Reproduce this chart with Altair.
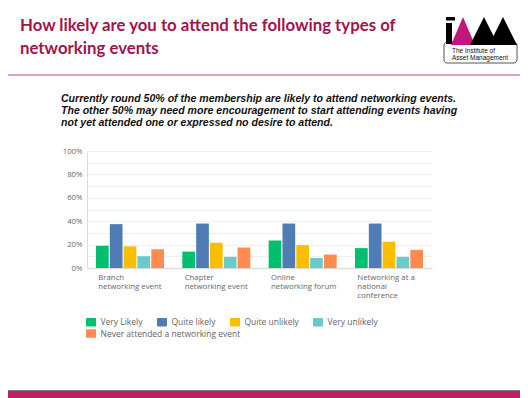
import altair as alt
import pandas as pd

# ---------------- data ----------------
categories = ["Branch networking event", "Chapter networking event",
              "Online networking forum", "Networking at a national conference"]
category_lines = [["Branch", "networking event"], ["Chapter", "networking event"],
                  ["Online", "networking forum"], ["Networking at a", "national", "conference"]]
series = ["Very Likely", "Quite likely", "Quite unlikely", "Very unlikely",
          "Never attended a networking event"]
colors = ["#00bf6f", "#507cb6", "#f9be00", "#6bc8cd", "#ff8b4f"]

very_likely = [19, 14, 23.5, 17]
quite_likely = [37.5, 38, 38, 38]
quite_unlikely = [18.5, 21.5, 19.5, 22.5]
very_unlikely = [10, 9.5, 8.5, 9.5]
never_attended = [16, 17.5, 11.5, 15.5]
y_ticks = [0, 10, 20, 30, 40, 50, 60, 70, 80, 90, 100]

title_text = "How likely are you to attend the following types of\nnetworking events"
subtitle_text = ("Currently round 50% of the membership are likely to attend networking events.\n"
                 "The other 50% may need more encouragement to start attending events having\n"
                 "not yet attended one or expressed no desire to attend.")
logo_text = "The Institute of\nAsset Management"

rows = []
for s, vals in zip(series, [very_likely, quite_likely, quite_unlikely, very_unlikely, never_attended]):
    for c, v in zip(categories, vals):
        rows.append({"category": c, "series": s, "value": v})
df = pd.DataFrame(rows)

# ---------------- layout ----------------
PL, PT, W, H = 79, 143, 345, 117
PR = 512 - PL - W
PB = 390 - PT - H


def X(px):
    return px - 8 - PL


def Y(py):
    return py - 8 - PT


label_expr = ""
for c, lines in zip(categories, category_lines):
    arr = "[" + ",".join("'" + l + "'" for l in lines) + "]"
    label_expr += f"datum.label == '{c}' ? {arr} : "
label_expr += "datum.label"

swatch = "M-0.8,-0.85H0.8Q1,-0.85 1,-0.65V0.65Q1,0.85 0.8,0.85H-0.8Q-1,0.85 -1,0.65V-0.65Q-1,-0.85 -0.8,-0.85Z"

leg_common = dict(title=None, orient="none", direction="horizontal",
                  symbolType=swatch, symbolSize=100, labelOffset=4.5,
                  columnPadding=14, padding=0, labelFontSize=8.5,
                  labelColor="#666666", labelFont="Open Sans",
                  symbolStrokeWidth=0, symbolOpacity=1)

x_enc = alt.X("category:N", sort=categories,
              scale=alt.Scale(paddingInner=0.212, paddingOuter=0.104),
              axis=alt.Axis(title=None, labelExpr=label_expr, labelAlign="left",
                            labelBaseline="top", labelOffset=-31.7, labelPadding=5,
                            labelLineHeight=9, labelAngle=0, ticks=False,
                            domainColor="#dddddd", domainWidth=1.5, labelColor="#666666",
                            labelFont="Open Sans", labelFontSize=7.8))
xoff_enc = alt.XOffset("series:N", scale=alt.Scale(domain=series, paddingInner=0.08, paddingOuter=0))
y_enc = alt.Y("value:Q", scale=alt.Scale(domain=[0, 100], nice=False),
              axis=alt.Axis(title=None, values=y_ticks,
                            labelExpr="datum.value % 20 == 0 ? datum.value + '%' : ''",
                            ticks=False, gridColor="#efefef", domainColor="#dddddd",
                            labelPadding=5, labelColor="#666666", labelFont="Open Sans",
                            labelFontSize=7.8))

bars_main = alt.Chart(df).transform_filter(
    alt.FieldOneOfPredicate(field="series", oneOf=series[:4])
).mark_bar().encode(
    x=x_enc, xOffset=xoff_enc, y=y_enc,
    color=alt.Color("series:N", scale=alt.Scale(domain=series[:4], range=colors[:4]),
                    legend=alt.Legend(legendX=X(86), legendY=Y(317), **leg_common)),
)

bars_never = alt.Chart(df).transform_filter(
    alt.FieldOneOfPredicate(field="series", oneOf=series[4:])
).mark_bar().encode(
    x=x_enc, xOffset=xoff_enc, y=y_enc,
    fill=alt.Fill("series:N", scale=alt.Scale(domain=series[4:], range=colors[4:]),
                  legend=alt.Legend(legendX=X(86), legendY=Y(328.5), **leg_common)),
)

one = pd.DataFrame({"t": [title_text], "s": [subtitle_text], "l": [logo_text]})
base = alt.Chart(one)

title = base.mark_text(align="left", baseline="alphabetic", font="Lato", fontWeight="bold",
                       fontSize=16.8, color="#a1144c", lineBreak="\n", lineHeight=23).encode(
    text="t:N", x=alt.value(X(20)), y=alt.value(Y(31)))

subtitle = base.mark_text(align="left", baseline="alphabetic", font="Liberation Sans",
                          fontWeight="bold", fontStyle="italic", fontSize=10.55, color="#111111",
                          lineBreak="\n", lineHeight=12).encode(
    text="s:N", x=alt.value(X(61)), y=alt.value(Y(102)))

pink_rule = base.mark_rule(color="#d9a1ba", strokeWidth=2).encode(
    x=alt.value(X(0)), x2=alt.value(X(528)), y=alt.value(Y(75)))

bottom_bar = base.mark_rect(color="#bd2162").encode(
    x=alt.value(X(0)), x2=alt.value(X(528)), y=alt.value(Y(391)), y2=alt.value(Y(398)))
bottom_line = base.mark_rule(color="#777777", strokeWidth=1).encode(
    x=alt.value(X(0)), x2=alt.value(X(528)), y=alt.value(Y(390.5)))

# logo
logo_box = base.mark_rect(fill="white", stroke="#555555", strokeWidth=1, cornerRadius=3).encode(
    x=alt.value(X(444)), x2=alt.value(X(517)), y=alt.value(Y(42)), y2=alt.value(Y(63)))
logo_txt = base.mark_text(align="left", baseline="alphabetic", font="Liberation Sans",
                          fontSize=6.5, color="#111111", lineBreak="\n", lineHeight=7).encode(
    text="l:N", x=alt.value(X(452)), y=alt.value(Y(53)))
tri = "M-0.857,1L0,-1L0.857,1Z"
tri2 = "M-1,1L0,-1L1,1Z"
logo_mag = base.mark_point(shape=tri, filled=True, size=784, color="#c2177a", opacity=1).encode(
    x=alt.value(X(463)), y=alt.value(Y(31)))
logo_b1 = base.mark_point(shape=tri2, filled=True, size=784, color="#000000", opacity=1).encode(
    x=alt.value(X(484)), y=alt.value(Y(31)))
logo_b2 = base.mark_point(shape=tri2, filled=True, size=784, color="#000000", opacity=1).encode(
    x=alt.value(X(503)), y=alt.value(Y(31)))
logo_i = base.mark_rect(color="#000000").encode(
    x=alt.value(X(446)), x2=alt.value(X(452)), y=alt.value(Y(23)), y2=alt.value(Y(44)))
logo_dot = base.mark_rect(color="#000000").encode(
    x=alt.value(X(446)), x2=alt.value(X(455)), y=alt.value(Y(17)), y2=alt.value(Y(20.5)))

chart = alt.layer(
    bars_main, bars_never, title, subtitle, pink_rule, bottom_bar, bottom_line,
    logo_box, logo_txt, logo_mag, logo_b1, logo_b2, logo_i, logo_dot
).properties(
    width=W, height=H,
    padding={"left": PL, "top": PT, "right": PR, "bottom": PB},
    autosize=alt.AutoSizeParams(type="none"),
    background="white",
).configure_view(strokeWidth=0)

chart.save("out.html", embed_options={"renderer": "svg", "actions": False})
